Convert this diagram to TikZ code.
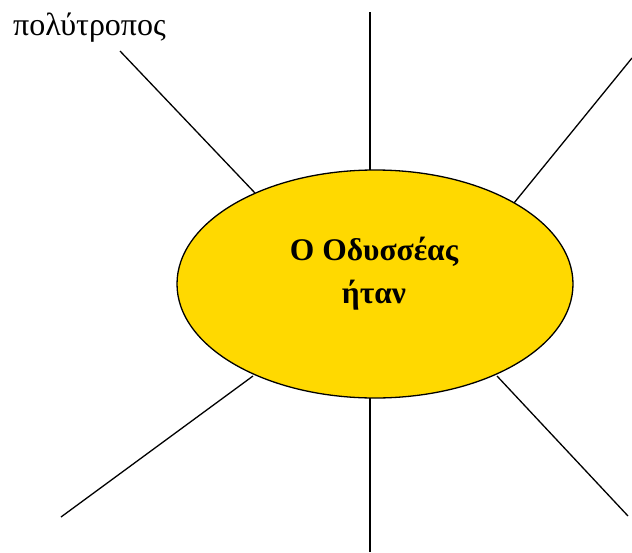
\documentclass[tikz,border=0pt]{standalone}
\usepackage{fontspec}
\setmainfont{Liberation Serif}
\usetikzlibrary{shapes.geometric}
\definecolor{sun}{RGB}{255,217,0}
\begin{document}
\begin{tikzpicture}[x=1pt,y=-1pt,
  ray/.style={line width=1.3pt,black},
  hub/.style={ellipse,draw=black,line width=1.3pt,fill=sun,inner sep=0pt,minimum width=396pt,minimum height=228pt},
  title/.style={font=\bfseries\fontsize{31.5}{36}\selectfont,anchor=base,inner sep=0pt},
  word/.style={font=\fontsize{32}{36}\selectfont,anchor=base west,inner sep=0pt}]
\useasboundingbox (0,0) rectangle (632,552);
% rays (behind the ellipse)
\coordinate (t1) at (370,12);   \coordinate (t2) at (370,172);
\coordinate (tl1) at (120,51);  \coordinate (tl2) at (255,193);
\coordinate (tr1) at (632,58);  \coordinate (tr2) at (514,203);
\coordinate (bl1) at (61,517);  \coordinate (bl2) at (253,376);
\coordinate (b1) at (370,552);  \coordinate (b2) at (370,398);
\coordinate (br1) at (628,516); \coordinate (br2) at (497,376);
\draw[ray] (t1) -- (t2);
\draw[ray] (tl1) -- (tl2);
\draw[ray] (tr1) -- (tr2);
\draw[ray] (bl1) -- (bl2);
\draw[ray] (b1) -- (b2);
\draw[ray] (br1) -- (br2);
\node[hub] (ell) at (375,284) {};
\node[title] (l1) at (374,260) {Ο Οδυσσέας};
\node[title] (l2) at (374,303) {ήταν};
\node[word] (w) at (13,35) {πολύτροπος};
\end{tikzpicture}
\end{document}
